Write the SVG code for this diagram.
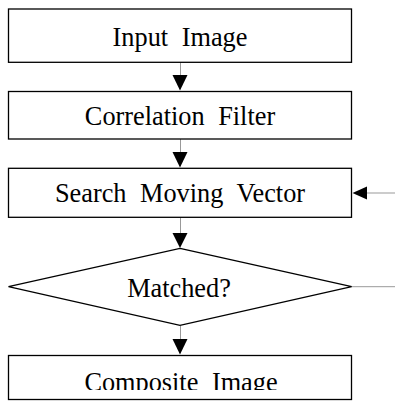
<svg xmlns="http://www.w3.org/2000/svg" width="395" height="401" viewBox="0 0 395 401">
<style>
.box{fill:#fff;stroke:#000;stroke-width:1.3}
.lbl{font-family:"Liberation Serif","Times New Roman",serif;font-size:26.3px;fill:#000;text-anchor:middle;word-spacing:7px}
.con{stroke:#999;stroke-width:1;fill:none}
.ah{fill:#000}
</style>
<defs>
<clipPath id="clipC"><rect x="0" y="340" width="395" height="50"/></clipPath>
</defs>
<rect width="395" height="401" fill="#fff"/>
<g id="connectors">
<line class="con" x1="180.5" y1="62" x2="180.5" y2="76"/>
<polygon class="ah" points="172.5,75 187.5,75 180,90.5"/>
<line class="con" x1="180.5" y1="139" x2="180.5" y2="153"/>
<polygon class="ah" points="172.5,152 187.5,152 180,167.5"/>
<line class="con" x1="180.5" y1="217" x2="180.5" y2="234"/>
<polygon class="ah" points="172.5,233 187.5,233 180,248"/>
<line class="con" x1="180.5" y1="326" x2="180.5" y2="340"/>
<polygon class="ah" points="172.5,339 187.5,339 180,354.5"/>
<line class="con" x1="352" y1="286.7" x2="395" y2="286.7"/>
<line class="con" x1="366" y1="193" x2="395" y2="193"/>
<polygon class="ah" points="367,186.5 367,199.5 352.5,193"/>
</g>
<g id="input-image">
<rect class="box" x="8.5" y="9" width="343" height="53.3"/>
<text class="lbl" x="180" y="45.5">Input Image</text>
</g>
<g id="correlation-filter">
<rect class="box" x="8.5" y="91.5" width="343" height="47.5"/>
<text class="lbl" x="180" y="125">Correlation Filter</text>
</g>
<g id="search-moving-vector">
<rect class="box" x="8.5" y="168.3" width="343" height="49"/>
<text class="lbl" x="180" y="201.5">Search Moving Vector</text>
</g>
<g id="matched">
<polygon class="box" points="180,248.3 351.7,286.7 180,325.3 8.5,286.7"/>
<text class="lbl" x="179" y="296.5">Matched?</text>
</g>
<g id="composite-image">
<rect class="box" x="8.5" y="355.5" width="343" height="44"/>
<text class="lbl" x="181" y="391" clip-path="url(#clipC)">Composite Image</text>
</g>
</svg>
